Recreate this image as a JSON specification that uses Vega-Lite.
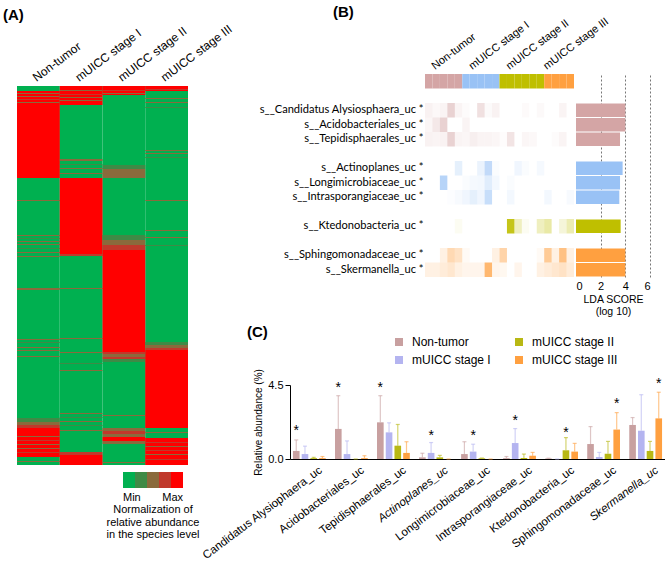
{
"$schema": "https://vega.github.io/schema/vega-lite/v6.json",
"padding": {"left": 3, "top": 5, "right": 0, "bottom": 0},
"config": {"view": {"stroke": null}, "font": "Liberation Sans", "axis": {"labelColor": "black", "titleColor": "black", "grid": false}, "legend": {"labelColor": "black", "titleColor": "black", "gradientHorizontalMinLength": 40, "gradientHorizontalMaxLength": 60, "gradientLength": 60}, "title": {"color": "black"}},
"bounds": "flush",
"spacing": 102,
"resolve": {"scale": {"color": "independent", "opacity": "independent"}, "legend": {"color": "independent"}},
"hconcat": [
{
 "width": 171, "height": 391,
 "title": {"text": "(A)", "anchor": "start", "frame": "group", "dx": -14, "fontSize": 15, "fontWeight": "bold", "offset": -1},
 "data": {"values": [
  {"c":"Non-tumor","s":0,"e":379,"v":0},
  {"c":"mUICC stage I","s":0,"e":379,"v":0},
  {"c":"mUICC stage II","s":0,"e":379,"v":0},
  {"c":"mUICC stage III","s":0,"e":379,"v":0},
  {"c":"Non-tumor","s":5,"e":92,"v":1},
  {"c":"Non-tumor","s":7,"e":8,"v":0.5},
  {"c":"Non-tumor","s":10,"e":11,"v":0.5},
  {"c":"Non-tumor","s":13,"e":14,"v":0.7},
  {"c":"Non-tumor","s":16,"e":17,"v":0.5},
  {"c":"Non-tumor","s":114,"e":115,"v":0.5},
  {"c":"Non-tumor","s":149,"e":150,"v":0.5},
  {"c":"Non-tumor","s":152,"e":153,"v":0.3},
  {"c":"Non-tumor","s":155,"e":156,"v":0.5},
  {"c":"Non-tumor","s":158,"e":159,"v":0.5},
  {"c":"Non-tumor","s":162,"e":163,"v":0.3},
  {"c":"Non-tumor","s":166,"e":167,"v":0.5},
  {"c":"Non-tumor","s":170,"e":171,"v":0.5},
  {"c":"Non-tumor","s":202,"e":204,"v":0.5},
  {"c":"Non-tumor","s":253,"e":254,"v":0.5},
  {"c":"Non-tumor","s":256,"e":257,"v":0.3},
  {"c":"Non-tumor","s":261,"e":262,"v":0.5},
  {"c":"Non-tumor","s":264,"e":265,"v":0.5},
  {"c":"Non-tumor","s":270,"e":271,"v":0.5},
  {"c":"Non-tumor","s":332,"e":336,"v":0.3},
  {"c":"Non-tumor","s":336,"e":339,"v":0.5},
  {"c":"Non-tumor","s":339,"e":342,"v":0.7},
  {"c":"Non-tumor","s":342,"e":371,"v":1},
  {"c":"Non-tumor","s":350,"e":351,"v":0.5},
  {"c":"Non-tumor","s":354,"e":355,"v":0.7},
  {"c":"Non-tumor","s":358,"e":359,"v":0.5},
  {"c":"Non-tumor","s":362,"e":363,"v":0.5},
  {"c":"Non-tumor","s":366,"e":367,"v":0.7},
  {"c":"Non-tumor","s":375,"e":376,"v":0.5},
  {"c":"mUICC stage I","s":0,"e":19,"v":1},
  {"c":"mUICC stage I","s":4,"e":5,"v":0.5},
  {"c":"mUICC stage I","s":8,"e":9,"v":0.7},
  {"c":"mUICC stage I","s":11,"e":12,"v":0.5},
  {"c":"mUICC stage I","s":14,"e":15,"v":0.5},
  {"c":"mUICC stage I","s":73,"e":75,"v":0.5},
  {"c":"mUICC stage I","s":78,"e":79,"v":0.3},
  {"c":"mUICC stage I","s":82,"e":83,"v":0.5},
  {"c":"mUICC stage I","s":87,"e":88,"v":0.5},
  {"c":"mUICC stage I","s":92,"e":168,"v":1},
  {"c":"mUICC stage I","s":168,"e":170,"v":0.7},
  {"c":"mUICC stage I","s":202,"e":203,"v":0.5},
  {"c":"mUICC stage I","s":252,"e":253,"v":0.5},
  {"c":"mUICC stage I","s":266,"e":267,"v":0.5},
  {"c":"mUICC stage I","s":277,"e":278,"v":0.3},
  {"c":"mUICC stage I","s":284,"e":285,"v":0.5},
  {"c":"mUICC stage I","s":327,"e":328,"v":0.5},
  {"c":"mUICC stage I","s":331,"e":332,"v":0.3},
  {"c":"mUICC stage I","s":335,"e":336,"v":0.5},
  {"c":"mUICC stage I","s":339,"e":340,"v":0.3},
  {"c":"mUICC stage I","s":344,"e":345,"v":0.5},
  {"c":"mUICC stage I","s":366,"e":369,"v":0.7},
  {"c":"mUICC stage I","s":369,"e":379,"v":1},
  {"c":"mUICC stage II","s":0,"e":9,"v":1},
  {"c":"mUICC stage II","s":4,"e":5,"v":0.7},
  {"c":"mUICC stage II","s":7,"e":8,"v":0.5},
  {"c":"mUICC stage II","s":79,"e":83,"v":0.3},
  {"c":"mUICC stage II","s":83,"e":92,"v":0.5},
  {"c":"mUICC stage II","s":149,"e":154,"v":0.3},
  {"c":"mUICC stage II","s":154,"e":159,"v":0.5},
  {"c":"mUICC stage II","s":159,"e":164,"v":0.7},
  {"c":"mUICC stage II","s":164,"e":266,"v":1},
  {"c":"mUICC stage II","s":266,"e":268,"v":0.7},
  {"c":"mUICC stage II","s":268,"e":271,"v":0.5},
  {"c":"mUICC stage II","s":271,"e":273,"v":0.7},
  {"c":"mUICC stage II","s":273,"e":276,"v":0.3},
  {"c":"mUICC stage II","s":329,"e":330,"v":0.5},
  {"c":"mUICC stage II","s":342,"e":345,"v":0.5},
  {"c":"mUICC stage II","s":345,"e":348,"v":0.7},
  {"c":"mUICC stage II","s":348,"e":351,"v":0.5},
  {"c":"mUICC stage II","s":351,"e":355,"v":1},
  {"c":"mUICC stage II","s":355,"e":358,"v":0.5},
  {"c":"mUICC stage II","s":376,"e":377,"v":0.5},
  {"c":"mUICC stage III","s":0,"e":5,"v":1},
  {"c":"mUICC stage III","s":3,"e":4,"v":0.7},
  {"c":"mUICC stage III","s":12,"e":13,"v":0.5},
  {"c":"mUICC stage III","s":16,"e":17,"v":0.5},
  {"c":"mUICC stage III","s":21,"e":22,"v":0.3},
  {"c":"mUICC stage III","s":64,"e":65,"v":0.5},
  {"c":"mUICC stage III","s":67,"e":68,"v":0.5},
  {"c":"mUICC stage III","s":71,"e":72,"v":0.3},
  {"c":"mUICC stage III","s":114,"e":115,"v":0.5},
  {"c":"mUICC stage III","s":144,"e":145,"v":0.5},
  {"c":"mUICC stage III","s":151,"e":152,"v":0.5},
  {"c":"mUICC stage III","s":159,"e":160,"v":0.3},
  {"c":"mUICC stage III","s":256,"e":259,"v":0.3},
  {"c":"mUICC stage III","s":259,"e":262,"v":0.5},
  {"c":"mUICC stage III","s":262,"e":264,"v":0.7},
  {"c":"mUICC stage III","s":264,"e":342,"v":1},
  {"c":"mUICC stage III","s":346,"e":347,"v":0.5},
  {"c":"mUICC stage III","s":352,"e":379,"v":1},
  {"c":"mUICC stage III","s":356,"e":357,"v":0.7},
  {"c":"mUICC stage III","s":360,"e":361,"v":0.5},
  {"c":"mUICC stage III","s":364,"e":365,"v":0.7},
  {"c":"mUICC stage III","s":368,"e":369,"v":0.5},
  {"c":"mUICC stage III","s":373,"e":374,"v":0.7}
 ]},
 "mark": {"type": "rect", "strokeWidth": 0},
 "encoding": {
  "x": {"field": "c", "type": "nominal", "sort": ["Non-tumor","mUICC stage I","mUICC stage II","mUICC stage III"], "scale": {"paddingInner": 0, "paddingOuter": 0},
        "axis": {"orient": "top", "title": null, "labelAngle": -37, "labelAlign": "left", "labelBaseline": "bottom", "domain": false, "ticks": false, "labelPadding": 2, "offset": -12, "labelFontSize": 12}},
  "y": {"field": "s", "type": "quantitative", "scale": {"domain": [-12, 379], "reverse": true, "nice": false, "zero": false}, "axis": null},
  "y2": {"field": "e"},
  "color": {"field": "v", "type": "quantitative", "scale": {"type": "quantize", "domain": [0, 1], "range": ["#00b050", "#3f8a46", "#8a6a3c", "#c0392b", "#ff0000"]},
    "legend": {"orient": "none", "legendX": 90, "legendY": 398, "direction": "horizontal", "gradientLength": 60, "gradientThickness": 8, "gradientStrokeWidth": 0, "values": [0, 0.2, 0.4, 0.6, 0.8, 1],
      "title": ["Normalization of", "relative abundance", "in the species level"], "titleOrient": "bottom", "titleAnchor": "middle", "titleAlign": "center", "titleFontWeight": "normal", "titleFontSize": 11, "titleLineHeight": 12.5, "titlePadding": 1,
      "labelFontSize": 11, "labelAlign": "center", "labelExpr": "datum.value <= 0.001 ? 'Min' : datum.value >= 0.999 ? 'Max' : ''", "labelOverlap": false, "labelOffset": 4, "padding": 0}}
 }
},
{
 "bounds": "flush",
 "spacing": 311,
 "resolve": {"scale": {"color": "independent", "opacity": "independent"}, "legend": {"color": "independent"}},
 "vconcat": [
  {
   "bounds": "flush",
   "spacing": 2,
   "resolve": {"scale": {"color": "independent", "opacity": "independent"}, "legend": {"color": "independent"}},
   "hconcat": [
    {"width": 133, "height": 203, "data": {"values": []}, "mark": "point", "encoding": {}},
    {
     "width": 149, "height": 203,
     "title": {"text": "(B)", "anchor": "start", "frame": "group", "dx": -92, "fontSize": 15, "fontWeight": "bold", "offset": -5},
     "data": {"values": [
      {"sp":"bar","s":1,"g":"Non-tumor","v":1},{"sp":"bar","s":2,"g":"Non-tumor","v":1},{"sp":"bar","s":3,"g":"Non-tumor","v":1},{"sp":"bar","s":4,"g":"Non-tumor","v":1},{"sp":"bar","s":5,"g":"Non-tumor","v":1},
      {"sp":"bar","s":6,"g":"mUICC stage I","v":1},{"sp":"bar","s":7,"g":"mUICC stage I","v":1},{"sp":"bar","s":8,"g":"mUICC stage I","v":1},{"sp":"bar","s":9,"g":"mUICC stage I","v":1},{"sp":"bar","s":10,"g":"mUICC stage I","v":1},
      {"sp":"bar","s":11,"g":"mUICC stage II","v":1},{"sp":"bar","s":12,"g":"mUICC stage II","v":1},{"sp":"bar","s":13,"g":"mUICC stage II","v":1},{"sp":"bar","s":14,"g":"mUICC stage II","v":1},{"sp":"bar","s":15,"g":"mUICC stage II","v":1},{"sp":"bar","s":16,"g":"mUICC stage II","v":1},
      {"sp":"bar","s":17,"g":"mUICC stage III","v":1},{"sp":"bar","s":18,"g":"mUICC stage III","v":1},{"sp":"bar","s":19,"g":"mUICC stage III","v":1},{"sp":"bar","s":20,"g":"mUICC stage III","v":1},
      {"sp":"s__Candidatus Alysiosphaera_uc *","g":"Non-tumor","s":1,"v":0.15},{"sp":"s__Candidatus Alysiosphaera_uc *","g":"Non-tumor","s":2,"v":0.08},{"sp":"s__Candidatus Alysiosphaera_uc *","g":"Non-tumor","s":3,"v":0.12},{"sp":"s__Candidatus Alysiosphaera_uc *","g":"Non-tumor","s":4,"v":0.5},{"sp":"s__Candidatus Alysiosphaera_uc *","g":"Non-tumor","s":5,"v":0.12},{"sp":"s__Candidatus Alysiosphaera_uc *","g":"Non-tumor","s":6,"v":0.04},{"sp":"s__Candidatus Alysiosphaera_uc *","g":"Non-tumor","s":8,"v":0.35},{"sp":"s__Candidatus Alysiosphaera_uc *","g":"Non-tumor","s":9,"v":0.06},{"sp":"s__Candidatus Alysiosphaera_uc *","g":"Non-tumor","s":10,"v":0.14},{"sp":"s__Candidatus Alysiosphaera_uc *","g":"Non-tumor","s":14,"v":0.05},{"sp":"s__Candidatus Alysiosphaera_uc *","g":"Non-tumor","s":16,"v":0.07},{"sp":"s__Candidatus Alysiosphaera_uc *","g":"Non-tumor","s":19,"v":0.12},
      {"sp":"s__Acidobacteriales_uc *","g":"Non-tumor","s":1,"v":0.1},{"sp":"s__Acidobacteriales_uc *","g":"Non-tumor","s":2,"v":0.25},{"sp":"s__Acidobacteriales_uc *","g":"Non-tumor","s":3,"v":0.5},{"sp":"s__Acidobacteriales_uc *","g":"Non-tumor","s":6,"v":0.12},
      {"sp":"s__Tepidisphaerales_uc *","g":"Non-tumor","s":1,"v":0.15},{"sp":"s__Tepidisphaerales_uc *","g":"Non-tumor","s":2,"v":0.12},{"sp":"s__Tepidisphaerales_uc *","g":"Non-tumor","s":3,"v":0.15},{"sp":"s__Tepidisphaerales_uc *","g":"Non-tumor","s":4,"v":0.5},{"sp":"s__Tepidisphaerales_uc *","g":"Non-tumor","s":5,"v":0.12},{"sp":"s__Tepidisphaerales_uc *","g":"Non-tumor","s":6,"v":0.1},{"sp":"s__Tepidisphaerales_uc *","g":"Non-tumor","s":7,"v":0.18},{"sp":"s__Tepidisphaerales_uc *","g":"Non-tumor","s":8,"v":0.12},{"sp":"s__Tepidisphaerales_uc *","g":"Non-tumor","s":9,"v":0.12},{"sp":"s__Tepidisphaerales_uc *","g":"Non-tumor","s":10,"v":0.1},{"sp":"s__Tepidisphaerales_uc *","g":"Non-tumor","s":11,"v":0.03},{"sp":"s__Tepidisphaerales_uc *","g":"Non-tumor","s":12,"v":0.3},{"sp":"s__Tepidisphaerales_uc *","g":"Non-tumor","s":14,"v":0.1},{"sp":"s__Tepidisphaerales_uc *","g":"Non-tumor","s":15,"v":0.08},{"sp":"s__Tepidisphaerales_uc *","g":"Non-tumor","s":18,"v":0.04},{"sp":"s__Tepidisphaerales_uc *","g":"Non-tumor","s":19,"v":0.12},
      {"sp":"s__Actinoplanes_uc *","g":"mUICC stage I","s":5,"v":0.25},{"sp":"s__Actinoplanes_uc *","g":"mUICC stage I","s":8,"v":0.2},{"sp":"s__Actinoplanes_uc *","g":"mUICC stage I","s":9,"v":0.6},{"sp":"s__Actinoplanes_uc *","g":"mUICC stage I","s":10,"v":0.05},{"sp":"s__Actinoplanes_uc *","g":"mUICC stage I","s":13,"v":0.15},{"sp":"s__Actinoplanes_uc *","g":"mUICC stage I","s":14,"v":0.05},{"sp":"s__Actinoplanes_uc *","g":"mUICC stage I","s":16,"v":0.1},
      {"sp":"s__Longimicrobiaceae_uc *","g":"mUICC stage I","s":3,"v":0.7},{"sp":"s__Longimicrobiaceae_uc *","g":"mUICC stage I","s":6,"v":0.05},{"sp":"s__Longimicrobiaceae_uc *","g":"mUICC stage I","s":7,"v":0.1},{"sp":"s__Longimicrobiaceae_uc *","g":"mUICC stage I","s":8,"v":0.12},{"sp":"s__Longimicrobiaceae_uc *","g":"mUICC stage I","s":9,"v":0.3},{"sp":"s__Longimicrobiaceae_uc *","g":"mUICC stage I","s":10,"v":0.12},{"sp":"s__Longimicrobiaceae_uc *","g":"mUICC stage I","s":12,"v":0.05},
      {"sp":"s__Intrasporangiaceae_uc *","g":"mUICC stage I","s":4,"v":0.03},{"sp":"s__Intrasporangiaceae_uc *","g":"mUICC stage I","s":5,"v":0.08},{"sp":"s__Intrasporangiaceae_uc *","g":"mUICC stage I","s":6,"v":0.15},{"sp":"s__Intrasporangiaceae_uc *","g":"mUICC stage I","s":7,"v":0.25},{"sp":"s__Intrasporangiaceae_uc *","g":"mUICC stage I","s":8,"v":0.15},{"sp":"s__Intrasporangiaceae_uc *","g":"mUICC stage I","s":9,"v":0.55},{"sp":"s__Intrasporangiaceae_uc *","g":"mUICC stage I","s":12,"v":0.12},{"sp":"s__Intrasporangiaceae_uc *","g":"mUICC stage I","s":17,"v":0.12},{"sp":"s__Intrasporangiaceae_uc *","g":"mUICC stage I","s":20,"v":0.08},
      {"sp":"s__Ktedonobacteria_uc *","g":"mUICC stage II","s":5,"v":0.05},{"sp":"s__Ktedonobacteria_uc *","g":"mUICC stage II","s":12,"v":0.9},{"sp":"s__Ktedonobacteria_uc *","g":"mUICC stage II","s":13,"v":0.25},{"sp":"s__Ktedonobacteria_uc *","g":"mUICC stage II","s":14,"v":0.05},{"sp":"s__Ktedonobacteria_uc *","g":"mUICC stage II","s":16,"v":0.25},{"sp":"s__Ktedonobacteria_uc *","g":"mUICC stage II","s":17,"v":0.35},{"sp":"s__Ktedonobacteria_uc *","g":"mUICC stage II","s":19,"v":0.15},{"sp":"s__Ktedonobacteria_uc *","g":"mUICC stage II","s":20,"v":0.3},
      {"sp":"s__Sphingomonadaceae_uc *","g":"mUICC stage III","s":3,"v":0.15},{"sp":"s__Sphingomonadaceae_uc *","g":"mUICC stage III","s":4,"v":0.4},{"sp":"s__Sphingomonadaceae_uc *","g":"mUICC stage III","s":5,"v":0.3},{"sp":"s__Sphingomonadaceae_uc *","g":"mUICC stage III","s":6,"v":0.05},{"sp":"s__Sphingomonadaceae_uc *","g":"mUICC stage III","s":10,"v":0.15},{"sp":"s__Sphingomonadaceae_uc *","g":"mUICC stage III","s":11,"v":0.45},{"sp":"s__Sphingomonadaceae_uc *","g":"mUICC stage III","s":16,"v":0.05},{"sp":"s__Sphingomonadaceae_uc *","g":"mUICC stage III","s":17,"v":0.55},{"sp":"s__Sphingomonadaceae_uc *","g":"mUICC stage III","s":18,"v":0.15},{"sp":"s__Sphingomonadaceae_uc *","g":"mUICC stage III","s":19,"v":0.65},{"sp":"s__Sphingomonadaceae_uc *","g":"mUICC stage III","s":20,"v":0.15},
      {"sp":"s__Skermanella_uc *","g":"mUICC stage III","s":1,"v":0.15},{"sp":"s__Skermanella_uc *","g":"mUICC stage III","s":2,"v":0.15},{"sp":"s__Skermanella_uc *","g":"mUICC stage III","s":3,"v":0.2},{"sp":"s__Skermanella_uc *","g":"mUICC stage III","s":4,"v":0.25},{"sp":"s__Skermanella_uc *","g":"mUICC stage III","s":5,"v":0.15},{"sp":"s__Skermanella_uc *","g":"mUICC stage III","s":6,"v":0.1},{"sp":"s__Skermanella_uc *","g":"mUICC stage III","s":7,"v":0.1},{"sp":"s__Skermanella_uc *","g":"mUICC stage III","s":8,"v":0.1},{"sp":"s__Skermanella_uc *","g":"mUICC stage III","s":9,"v":0.75},{"sp":"s__Skermanella_uc *","g":"mUICC stage III","s":10,"v":0.1},{"sp":"s__Skermanella_uc *","g":"mUICC stage III","s":11,"v":0.08},{"sp":"s__Skermanella_uc *","g":"mUICC stage III","s":13,"v":0.1},{"sp":"s__Skermanella_uc *","g":"mUICC stage III","s":16,"v":0.15},{"sp":"s__Skermanella_uc *","g":"mUICC stage III","s":17,"v":0.2},{"sp":"s__Skermanella_uc *","g":"mUICC stage III","s":18,"v":0.25},{"sp":"s__Skermanella_uc *","g":"mUICC stage III","s":19,"v":0.3},{"sp":"s__Skermanella_uc *","g":"mUICC stage III","s":20,"v":0.2}
     ]},
     "mark": {"type": "rect", "strokeWidth": 0},
     "encoding": {
      "x": {"field": "s", "type": "ordinal", "scale": {"domain": [1,2,3,4,5,6,7,8,9,10,11,12,13,14,15,16,17,18,19,20], "paddingInner": 0, "paddingOuter": 0},
            "axis": {"orient": "top", "title": null, "values": [2,7,12,17], "labelExpr": "datum.value == 2 ? 'Non-tumor' : datum.value == 7 ? 'mUICC stage I' : datum.value == 12 ? 'mUICC stage II' : 'mUICC stage III'", "labelAngle": -37, "labelAlign": "left", "labelBaseline": "bottom", "domain": false, "ticks": false, "labelPadding": 3, "labelFontSize": 11}},
      "y": {"field": "sp", "type": "nominal", "scale": {"domain": ["bar","g0","s__Candidatus Alysiosphaera_uc *","s__Acidobacteriales_uc *","s__Tepidisphaerales_uc *","g1","s__Actinoplanes_uc *","s__Longimicrobiaceae_uc *","s__Intrasporangiaceae_uc *","g2","s__Ktedonobacteria_uc *","g3","s__Sphingomonadaceae_uc *","s__Skermanella_uc *"], "paddingInner": 0, "paddingOuter": 0},
            "axis": {"title": null, "labelExpr": "indexof(datum.label, 's__') == 0 ? datum.label : ''", "domain": false, "ticks": false, "labelPadding": 2, "labelFont": "Lato", "labelFontSize": 11.1, "labelLimit": 300}},
      "color": {"field": "g", "type": "nominal", "scale": {"domain": ["Non-tumor","mUICC stage I","mUICC stage II","mUICC stage III"], "range": ["#d4a5a5","#99c2f5","#bfbf00","#ffa040"]}, "legend": null},
      "opacity": {"field": "v", "type": "quantitative", "scale": {"domain": [0, 1], "range": [0, 1]}, "legend": null}
     }
    },
    {
     "width": 74, "height": 203,
     "data": {"values": [
      {"sp":"s__Candidatus Alysiosphaera_uc *","g":"Non-tumor","lda":4.0},
      {"sp":"s__Acidobacteriales_uc *","g":"Non-tumor","lda":4.0},
      {"sp":"s__Tepidisphaerales_uc *","g":"Non-tumor","lda":3.57},
      {"sp":"s__Actinoplanes_uc *","g":"mUICC stage I","lda":3.78},
      {"sp":"s__Longimicrobiaceae_uc *","g":"mUICC stage I","lda":3.57},
      {"sp":"s__Intrasporangiaceae_uc *","g":"mUICC stage I","lda":3.51},
      {"sp":"s__Ktedonobacteria_uc *","g":"mUICC stage II","lda":3.62},
      {"sp":"s__Sphingomonadaceae_uc *","g":"mUICC stage III","lda":4.0},
      {"sp":"s__Skermanella_uc *","g":"mUICC stage III","lda":4.0}
     ]},
     "mark": {"type": "bar"},
     "encoding": {
      "x": {"field": "lda", "type": "quantitative", "scale": {"domain": [0, 6], "nice": false},
            "axis": {"values": [0,2,4,6], "grid": true, "gridDash": [2,2], "gridColor": "#777777", "gridOpacity": {"condition": {"test": "datum.value === 0", "value": 0}, "value": 1}, "domain": false, "ticks": false, "labelFontSize": 11, "labelPadding": 3, "title": ["LDA SCORE", "(log 10)"], "titleFontSize": 10.5, "titleFontWeight": "normal", "titlePadding": 3}},
      "y": {"field": "sp", "type": "nominal", "scale": {"domain": ["bar","g0","s__Candidatus Alysiosphaera_uc *","s__Acidobacteriales_uc *","s__Tepidisphaerales_uc *","g1","s__Actinoplanes_uc *","s__Longimicrobiaceae_uc *","s__Intrasporangiaceae_uc *","g2","s__Ktedonobacteria_uc *","g3","s__Sphingomonadaceae_uc *","s__Skermanella_uc *"], "paddingInner": 0.08, "paddingOuter": 0.04}, "axis": null},
      "color": {"field": "g", "type": "nominal", "scale": {"domain": ["Non-tumor","mUICC stage I","mUICC stage II","mUICC stage III"], "range": ["#d4a5a5","#99c2f5","#bfbf00","#ffa040"]}, "legend": null}
     }
    }
   ]
  },
  {
   "width": 375, "height": 74,
   "title": {"text": "(C)", "anchor": "start", "frame": "group", "dx": -43, "fontSize": 15, "fontWeight": "bold", "offset": -4},
   "data": {"values": [
    {"sp":"Candidatus Alysiophaera_uc","grp":"Non-tumor","m":0.49,"up":1.16},
    {"sp":"Candidatus Alysiophaera_uc","grp":"mUICC stage I","m":0.3,"up":0.78},
    {"sp":"Candidatus Alysiophaera_uc","grp":"mUICC stage II","m":0.05,"up":0.1},
    {"sp":"Candidatus Alysiophaera_uc","grp":"mUICC stage III","m":0.05,"up":0.15},
    {"sp":"Acidobacteriales_uc","grp":"Non-tumor","m":1.83,"up":3.85},
    {"sp":"Acidobacteriales_uc","grp":"mUICC stage I","m":0.3,"up":1.1},
    {"sp":"Acidobacteriales_uc","grp":"mUICC stage II","m":0,"up":0},
    {"sp":"Acidobacteriales_uc","grp":"mUICC stage III","m":0.05,"up":0.2},
    {"sp":"Tepidisphaerales_uc","grp":"Non-tumor","m":2.23,"up":3.85},
    {"sp":"Tepidisphaerales_uc","grp":"mUICC stage I","m":1.62,"up":2.2},
    {"sp":"Tepidisphaerales_uc","grp":"mUICC stage II","m":0.81,"up":2.1},
    {"sp":"Tepidisphaerales_uc","grp":"mUICC stage III","m":0.37,"up":1.05},
    {"sp":"Actinoplanes_uc","grp":"Non-tumor","m":0.1,"up":0.35},
    {"sp":"Actinoplanes_uc","grp":"mUICC stage I","m":0.37,"up":1.0},
    {"sp":"Actinoplanes_uc","grp":"mUICC stage II","m":0.1,"up":0.22},
    {"sp":"Actinoplanes_uc","grp":"mUICC stage III","m":0,"up":0},
    {"sp":"Longimicrobiaceae_uc","grp":"Non-tumor","m":0.3,"up":1.05},
    {"sp":"Longimicrobiaceae_uc","grp":"mUICC stage I","m":0.45,"up":0.9},
    {"sp":"Longimicrobiaceae_uc","grp":"mUICC stage II","m":0.04,"up":0.06},
    {"sp":"Longimicrobiaceae_uc","grp":"mUICC stage III","m":0,"up":0},
    {"sp":"Intrasporangiaceae_uc","grp":"Non-tumor","m":0.05,"up":0.15},
    {"sp":"Intrasporangiaceae_uc","grp":"mUICC stage I","m":0.97,"up":1.85},
    {"sp":"Intrasporangiaceae_uc","grp":"mUICC stage II","m":0.06,"up":0.3},
    {"sp":"Intrasporangiaceae_uc","grp":"mUICC stage III","m":0.2,"up":0.4},
    {"sp":"Ktedonobacteria_uc","grp":"Non-tumor","m":0.03,"up":0.05},
    {"sp":"Ktedonobacteria_uc","grp":"mUICC stage I","m":0,"up":0},
    {"sp":"Ktedonobacteria_uc","grp":"mUICC stage II","m":0.53,"up":1.3},
    {"sp":"Ktedonobacteria_uc","grp":"mUICC stage III","m":0.45,"up":0.95},
    {"sp":"Sphingomonadaceae_uc","grp":"Non-tumor","m":0.91,"up":1.97},
    {"sp":"Sphingomonadaceae_uc","grp":"mUICC stage I","m":0.12,"up":0.4},
    {"sp":"Sphingomonadaceae_uc","grp":"mUICC stage II","m":0.32,"up":1.07},
    {"sp":"Sphingomonadaceae_uc","grp":"mUICC stage III","m":1.79,"up":2.82},
    {"sp":"Skermanella_uc","grp":"Non-tumor","m":2.07,"up":2.52},
    {"sp":"Skermanella_uc","grp":"mUICC stage I","m":1.72,"up":3.91},
    {"sp":"Skermanella_uc","grp":"mUICC stage II","m":0.49,"up":1.07},
    {"sp":"Skermanella_uc","grp":"mUICC stage III","m":2.47,"up":4.06}
   ]},
   "encoding": {
    "x": {"field": "sp", "type": "nominal", "sort": ["Candidatus Alysiophaera_uc","Acidobacteriales_uc","Tepidisphaerales_uc","Actinoplanes_uc","Longimicrobiaceae_uc","Intrasporangiaceae_uc","Ktedonobacteria_uc","Sphingomonadaceae_uc","Skermanella_uc"],
          "scale": {"paddingInner": 0.22, "paddingOuter": 0.07},
          "axis": {"title": null, "labelAngle": -37, "labelAlign": "right", "labelBaseline": "top", "ticks": false, "domainColor": "black", "labelFontSize": 11.5, "labelPadding": 5, "labelOffset": 8, "labelLimit": 300,
                   "labelFontStyle": {"condition": {"test": "datum.value == 'Actinoplanes_uc' || datum.value == 'Skermanella_uc'", "value": "italic"}, "value": "normal"}}},
    "xOffset": {"field": "grp", "type": "nominal", "scale": {"domain": ["Non-tumor","mUICC stage I","mUICC stage II","mUICC stage III"], "paddingInner": 0.24, "paddingOuter": 0}}
   },
   "layer": [
    {"mark": {"type": "bar"},
     "encoding": {"y": {"field": "m", "type": "quantitative", "scale": {"domain": [0, 4.5], "nice": false},
        "axis": {"values": [0, 1.5, 3, 4.5], "format": ".1f", "labelOverlap": false, "labelFontSize": 11, "domainColor": "black", "tickColor": "black", "title": "Relative abundance (%)", "titleFontSize": 10, "titleFontWeight": "normal", "titlePadding": 4}},
      "color": {"field": "grp", "type": "nominal", "scale": {"domain": ["Non-tumor","mUICC stage II","mUICC stage I","mUICC stage III"], "range": ["#c8a0a0","#b8b814","#b4b4f0","#ffa040"]},
        "legend": {"orient": "none", "legendX": 103, "legendY": -49, "direction": "horizontal", "title": null, "columns": 2, "symbolType": "square", "symbolSize": 64, "symbolStrokeWidth": 0, "labelFontSize": 12, "columnPadding": 22, "rowPadding": 6, "labelOffset": 7, "padding": 0}}}},
    {"mark": {"type": "rule", "opacity": 0.6, "strokeWidth": 1.2},
     "encoding": {"y": {"field": "m", "type": "quantitative"}, "y2": {"field": "up"}, "color": {"field": "grp", "type": "nominal", "legend": null}}},
    {"mark": {"type": "tick", "opacity": 0.6, "thickness": 1.2, "size": 4},
     "encoding": {"y": {"field": "up", "type": "quantitative"}, "color": {"field": "grp", "type": "nominal", "legend": null}}},
    {"data": {"values": [
      {"sp":"Candidatus Alysiophaera_uc","grp":"Non-tumor","st":1.76},
      {"sp":"Acidobacteriales_uc","grp":"Non-tumor","st":4.36},
      {"sp":"Tepidisphaerales_uc","grp":"Non-tumor","st":4.36},
      {"sp":"Actinoplanes_uc","grp":"mUICC stage I","st":1.46},
      {"sp":"Longimicrobiaceae_uc","grp":"mUICC stage I","st":1.46},
      {"sp":"Intrasporangiaceae_uc","grp":"mUICC stage I","st":2.4},
      {"sp":"Ktedonobacteria_uc","grp":"mUICC stage II","st":1.66},
      {"sp":"Sphingomonadaceae_uc","grp":"mUICC stage III","st":3.39},
      {"sp":"Skermanella_uc","grp":"mUICC stage III","st":4.6}
     ]},
     "mark": {"type": "text", "text": "*", "fontSize": 14, "baseline": "alphabetic", "dy": 5, "color": "black"},
     "encoding": {"y": {"field": "st", "type": "quantitative"}}}
   ]
  }
 ]
}
]
}
